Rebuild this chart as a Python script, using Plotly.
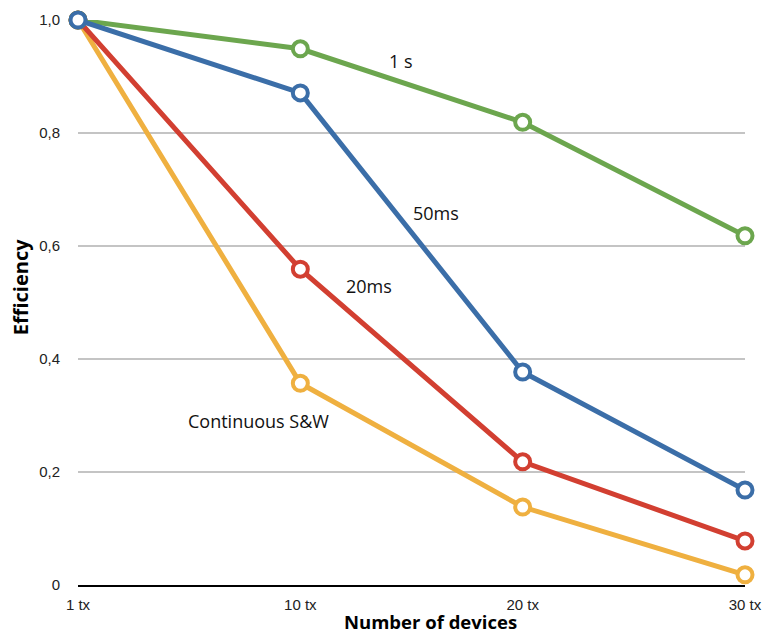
import plotly.graph_objects as go

categories = ["1 tx", "10 tx", "20 tx", "30 tx"]
series_names = ["Continuous S&W", "20ms", "1 s", "50ms"]
continuous_sw = [1.0, 0.357, 0.138, 0.018]
ms20 = [1.0, 0.559, 0.218, 0.078]
s1 = [1.0, 0.949, 0.819, 0.618]
ms50 = [1.0, 0.871, 0.377, 0.168]
y_tick_vals = [0, 0.2, 0.4, 0.6, 0.8, 1.0]
y_tick_text = ["0", "0,2", "0,4", "0,6", "0,8", "1,0"]

colors = ["#efb040", "#d23f31", "#6ca64e", "#3b6ea8"]
values = [continuous_sw, ms20, s1, ms50]

xs = list(range(len(categories)))

fig = go.Figure()
for name, vals, col in zip(series_names, values, colors):
    fig.add_trace(go.Scatter(
        x=xs, y=vals, name=name, mode="lines+markers",
        line=dict(color=col, width=5),
        marker=dict(size=15, color="white", line=dict(color=col, width=4)),
        cliponaxis=False, showlegend=False,
    ))

label_font = dict(family="Open Sans, Liberation Sans, sans-serif", size=18, color="#111111")
labels = [("1 s", 1.453, 0.927), ("50ms", 1.610, 0.658), ("20ms", 1.309, 0.529),
          ("Continuous S&W", 0.814, 0.290)]
for txt, lx, ly in labels:
    fig.add_annotation(x=lx, y=ly, xref="x", yref="y", text=txt, showarrow=False,
                       font=label_font, xanchor="center", yanchor="middle")

fig.add_annotation(x=0.529, y=-0.064, xref="paper", yref="paper", text="<b>Number of devices</b>",
                   showarrow=False, borderpad=0,
                   font=dict(family="Open Sans, sans-serif", size=18.5, color="#000"),
                   xanchor="center", yanchor="middle")
fig.add_annotation(x=-0.087, y=0.527, xref="paper", yref="paper", text="<b>Efficiency</b>",
                   showarrow=False, textangle=-90,
                   font=dict(family="Open Sans, sans-serif", size=20, color="#000"),
                   xanchor="center", yanchor="middle")

fig.update_layout(
    width=764, height=633,
    margin=dict(l=78, r=19, t=20, b=48, autoexpand=False),
    plot_bgcolor="white", paper_bgcolor="white",
    separators=",.",
)
fig.update_xaxes(
    range=[0, 3], tickvals=xs, ticktext=categories, showgrid=False, zeroline=False,
    showline=True, linecolor="#000000", linewidth=2, automargin=False,
    ticks="", ticklabelstandoff=5,
    tickfont=dict(family="Liberation Sans, Arial, sans-serif", size=15, color="#222222"),
)
fig.update_yaxes(
    range=[0, 1], tickvals=y_tick_vals, ticktext=y_tick_text, automargin=False,
    showgrid=True, gridcolor="#c4c4c4", gridwidth=2, zeroline=False, showline=False,
    ticks="", ticklabelstandoff=17,
    tickfont=dict(family="Liberation Sans, Arial, sans-serif", size=15, color="#222222"),
)

fig.write_html("out.html", config={"displayModeBar": False},
               post_script="document.body.style.margin='0px';document.body.style.overflow='hidden';")
